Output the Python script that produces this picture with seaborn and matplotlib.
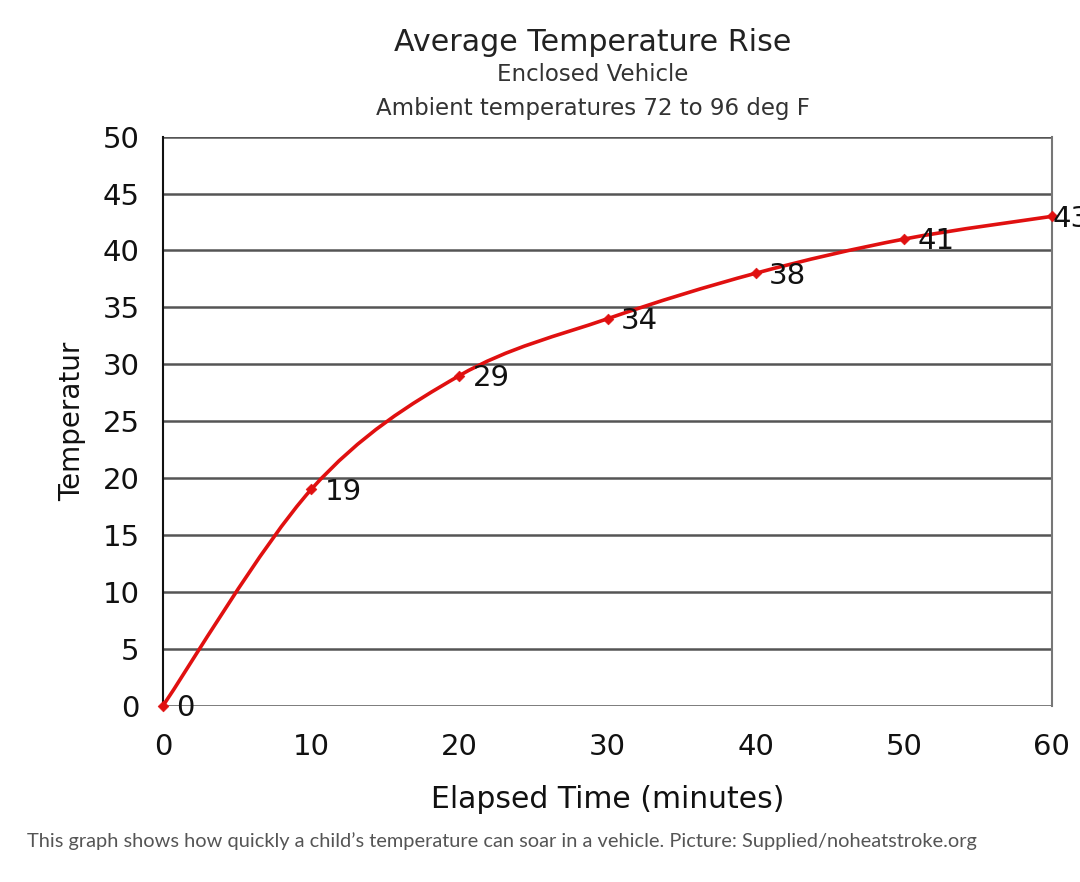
import numpy as np
import pandas as pd
import matplotlib
matplotlib.use("Agg")
import matplotlib.pyplot as plt
from matplotlib.path import Path
from matplotlib.patches import PathPatch
import seaborn as sns

# data
minutes = [0, 10, 20, 30, 40, 50, 60]
temp_rise = [0, 19, 29, 34, 38, 41, 43]
y_ticks = [0, 5, 10, 15, 20, 25, 30, 35, 40, 45, 50]
x_ticks = [0, 10, 20, 30, 40, 50, 60]

sns.set_style("white")
plt.rcParams['font.family'] = 'sans-serif'
plt.rcParams['font.sans-serif'] = ['DejaVu Sans']

df = pd.DataFrame({"minutes": minutes, "temp": temp_rise})

fig = plt.figure(figsize=(10.8, 8.82), dpi=100)
ax = fig.add_axes([0.151, 0.200, 0.823, 0.645])

# smoothed line (Excel-style) through the points: Catmull-Rom as bezier segments
xs = np.array(minutes, dtype=float)
ys = np.array(temp_rise, dtype=float)
verts = [(xs[0], ys[0])]
codes = [Path.MOVETO]
for i in range(len(xs) - 1):
    p0 = (xs[max(i - 1, 0)], ys[max(i - 1, 0)])
    p1 = (xs[i], ys[i])
    p2 = (xs[i + 1], ys[i + 1])
    p3 = (xs[min(i + 2, len(xs) - 1)], ys[min(i + 2, len(xs) - 1)])
    t = 1 / 6.0
    c1 = (p1[0] + (p2[0] - p0[0]) * t, p1[1] + (p2[1] - p0[1]) * t)
    c2 = (p2[0] - (p3[0] - p1[0]) * t, p2[1] - (p3[1] - p1[1]) * t)
    verts += [c1, c2, p2]
    codes += [Path.CURVE4] * 3
ax.add_patch(PathPatch(Path(verts, codes), facecolor="none", edgecolor="#e01010",
                       lw=2.6, zorder=3, clip_on=False))

sns.scatterplot(data=df, x="minutes", y="temp", marker="D", s=30, color="#e01010",
                edgecolor="#e01010", ax=ax, zorder=4, clip_on=False)

for xv, yv in zip(minutes, temp_rise):
    off = 0.9 if xv < 60 else 0.05
    ax.text(xv + off, yv - 0.2, str(yv), fontsize=21, color="#111111", va="center", ha="left",
            clip_on=False, zorder=5)

ax.set_xlim(0, 60)
ax.set_ylim(0, 50)
ax.set_xticks(x_ticks)
ax.set_yticks(y_ticks)
ax.tick_params(axis="both", labelsize=21, colors="#111111", width=1, direction="out")
ax.tick_params(axis="x", length=5, pad=15)
ax.tick_params(axis="y", length=8, pad=9)
for yv in y_ticks:
    ax.axhline(yv, color="#555555", lw=1.8, zorder=1)

for side in ["top", "bottom"]:
    ax.spines[side].set_visible(False)
ax.spines["left"].set_color("#111111")
ax.spines["left"].set_linewidth(1.5)
ax.spines["right"].set_color("#777777")
ax.spines["right"].set_linewidth(1.5)

ax.set_xlabel("Elapsed Time (minutes)", fontsize=21.5, color="#111111", labelpad=17)
ax.set_ylabel("Temperatur", fontsize=20, color="#111111", labelpad=12)

fig.text(0.549, 0.952, "Average Temperature Rise", fontsize=21.7, color="#222222",
         ha="center", va="center")
fig.text(0.549, 0.916, "Enclosed Vehicle", fontsize=16.5, color="#333333",
         ha="center", va="center")
fig.text(0.549, 0.877, "Ambient temperatures 72 to 96 deg F", fontsize=16.5, color="#333333",
         ha="center", va="center")
fig.text(0.025, 0.046, "This graph shows how quickly a child\u2019s temperature can soar in a vehicle. Picture: Supplied/noheatstroke.org",
         fontsize=14.4, color="#555555", ha="left", va="center", family=["Lato", "DejaVu Sans"])

fig.savefig("out.png", dpi=100, facecolor="white")
